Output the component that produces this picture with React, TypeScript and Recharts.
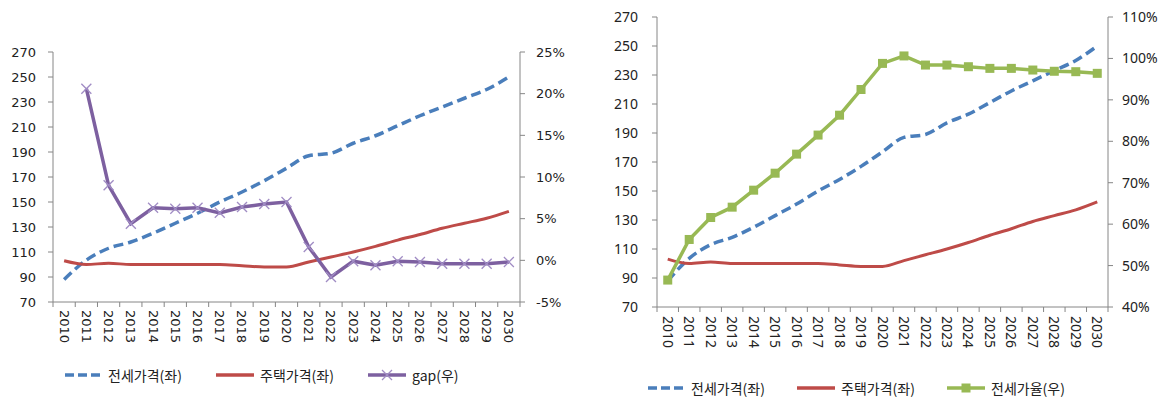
import React from "react"
import { LineChart, Line, XAxis, YAxis, Legend } from "recharts"

const years = [
  "2010", "2011", "2012", "2013", "2014", "2015", "2016", "2017", "2018", "2019", "2020",
  "2021", "2022", "2023", "2024", "2025", "2026", "2027", "2028", "2029", "2030",
]
const jeonsePrice = [88, 103.5, 113, 118, 125, 133, 141, 150, 158, 167, 177, 187, 189, 197, 203, 211, 219, 226, 233, 240, 250]
const housePrice = [103, 100, 101, 100, 100, 100, 100, 100, 99, 98, 98, 102, 106, 110, 114.5, 119.5, 124, 129, 133, 137, 142.5]
const gapPct = [null, 20.6, 9.0, 4.4, 6.3, 6.2, 6.3, 5.7, 6.4, 6.75, 7.0, 1.6, -2.0, -0.1, -0.6, -0.1, -0.2, -0.4, -0.4, -0.4, -0.2]
const jeonseRatio = [46.5, 56.3, 61.6, 64.1, 68.2, 72.3, 76.9, 81.5, 86.3, 92.5, 98.8, 100.6, 98.4, 98.4, 98.0, 97.6, 97.6, 97.2, 96.9, 96.8, 96.4]

const priceTicks = [70, 90, 110, 130, 150, 170, 190, 210, 230, 250, 270]
const gapTicks = [-5, 0, 5, 10, 15, 20, 25]
const ratioTicks = [40, 50, 60, 70, 80, 90, 100, 110]

const data = years.map((year, i) => ({
  year,
  jeonse: jeonsePrice[i],
  house: housePrice[i],
  gap: gapPct[i],
  ratio: jeonseRatio[i],
}))

const BLUE = "#4A7EBB"
const RED = "#BE4B48"
const PURPLE = "#7D60A0"
const GREEN = "#98B954"
const AXIS = "#868686"
const TEXT = "#222"
const KR = "'Noto Sans CJK KR', 'Noto Sans', sans-serif"

function YearTick(props: any) {
  const { x, y, payload, index, half, font, size, gap } = props
  return (
    <g>
      <line x1={x - half} y1={y} x2={x - half} y2={y + 5} stroke={AXIS} />
      {index === years.length - 1 && <line x1={x + half} y1={y} x2={x + half} y2={y + 5} stroke={AXIS} />}
      <text
        transform={`translate(${x},${y + gap}) rotate(90)`}
        textAnchor="start"
        dy="0.35em"
        fontFamily={font}
        fontSize={size}
        fill={TEXT}
      >
        {payload.value}
      </text>
    </g>
  )
}

function CrossDot(props: any) {
  const { cx, cy, index } = props
  if (cx == null || cy == null) return <g key={index} />
  const r = 5
  return (
    <g key={index}>
      <line x1={cx - r} y1={cy - r} x2={cx + r} y2={cy + r} stroke="#A08CC4" strokeWidth={1.3} />
      <line x1={cx - r} y1={cy + r} x2={cx + r} y2={cy - r} stroke="#A08CC4" strokeWidth={1.3} />
    </g>
  )
}

function SquareDot(props: any) {
  const { cx, cy, index } = props
  if (cx == null || cy == null) return <g key={index} />
  return <rect key={index} x={cx - 4.5} y={cy - 4.5} width={9} height={9} fill={GREEN} />
}

type LegendItem = { label: string; color: string; kind: "dash" | "line" | "cross" | "square" }

function LegendIcon({ item }: { item: LegendItem }) {
  return (
    <svg width={38} height={12} style={{ marginRight: 6, flex: "none" }}>
      {item.kind === "dash" ? (
        <line x1={1} y1={6} x2={37} y2={6} stroke={item.color} strokeWidth={3.5} strokeDasharray="9 4" />
      ) : (
        <line x1={0} y1={6} x2={38} y2={6} stroke={item.color} strokeWidth={3.5} />
      )}
      {item.kind === "cross" && (
        <g stroke="#A08CC4" strokeWidth={1.3}>
          <line x1={14} y1={1} x2={24} y2={11} />
          <line x1={14} y1={11} x2={24} y2={1} />
        </g>
      )}
      {item.kind === "square" && <rect x={14.5} y={1.5} width={9} height={9} fill={item.color} />}
    </svg>
  )
}

function makeLegend(items: LegendItem[], padLeft: number, itemWidth: number) {
  return () => (
    <div style={{ display: "flex", alignItems: "center", height: 24, paddingLeft: padLeft }}>
      {items.map((item) => (
        <div key={item.label} style={{ display: "flex", alignItems: "center", width: itemWidth, flex: "none" }}>
          <LegendIcon item={item} />
          <span style={{ fontFamily: KR, fontSize: 14, color: TEXT, whiteSpace: "nowrap" }}>{item.label}</span>
        </div>
      ))}
    </div>
  )
}

const leftLegend: LegendItem[] = [
  { label: "전세가격(좌)", color: BLUE, kind: "dash" },
  { label: "주택가격(좌)", color: RED, kind: "line" },
  { label: "gap(우)", color: PURPLE, kind: "cross" },
]
const rightLegend: LegendItem[] = [
  { label: "전세가격(좌)", color: BLUE, kind: "dash" },
  { label: "주택가격(좌)", color: RED, kind: "line" },
  { label: "전세가율(우)", color: GREEN, kind: "square" },
]

export default function App() {
  const leftFont = "'DejaVu Sans', Verdana, sans-serif"
  const rightFont = "'Noto Sans', sans-serif"
  const leftHalf = 467 / years.length / 2
  const rightHalf = 451 / years.length / 2
  return (
    <div style={{ position: "absolute", left: 0, top: 0, width: 1166, height: 403, background: "#fff" }}>
      <div style={{ position: "absolute", left: 0, top: 0 }}>
        <LineChart width={580} height={403} data={data} margin={{ top: 52, right: 0, left: 0, bottom: 16 }}>
          <XAxis
            dataKey="year"
            interval={0}
            height={61}
            tickSize={0}
            tickMargin={0}
            padding={{ left: leftHalf, right: leftHalf }}
            stroke={AXIS}
            tick={<YearTick half={leftHalf} font={leftFont} size={13} gap={8} />}
          />
          <YAxis
            yAxisId="left"
            width={53}
            domain={[70, 270]}
            ticks={priceTicks}
            interval={0}
            tickSize={5}
            tickMargin={12}
            stroke={AXIS}
            tick={{ fontFamily: leftFont, fontSize: 13, fill: TEXT }}
          />
          <YAxis
            yAxisId="right"
            orientation="right"
            width={60}
            domain={[-5, 25]}
            ticks={gapTicks}
            interval={0}
            tickSize={5}
            tickMargin={11}
            stroke={AXIS}
            tickFormatter={(v: number) => `${v}%`}
            tick={{ fontFamily: leftFont, fontSize: 13, fill: TEXT, textAnchor: "start" }}
          />
          <Legend verticalAlign="bottom" height={24} content={makeLegend(leftLegend, 64, 152)} />
          <Line yAxisId="left" type="monotone" dataKey="jeonse" stroke={BLUE} strokeWidth={3.5} strokeDasharray="10 5" dot={false} activeDot={false} isAnimationActive={false} />
          <Line yAxisId="left" type="monotone" dataKey="house" stroke={RED} strokeWidth={3} dot={false} activeDot={false} isAnimationActive={false} />
          <Line yAxisId="right" type="linear" dataKey="gap" stroke={PURPLE} strokeWidth={3.5} dot={<CrossDot />} activeDot={false} isAnimationActive={false} />
        </LineChart>
      </div>
      <div style={{ position: "absolute", left: 586, top: 0 }}>
        <LineChart width={580} height={403} data={data} margin={{ top: 17, right: 0, left: 0, bottom: 3 }}>
          <XAxis
            dataKey="year"
            interval={0}
            height={69}
            tickSize={0}
            tickMargin={0}
            padding={{ left: rightHalf, right: rightHalf }}
            stroke={AXIS}
            tick={<YearTick half={rightHalf} font={rightFont} size={14} gap={9} />}
          />
          <YAxis
            yAxisId="left"
            width={71}
            domain={[70, 270]}
            ticks={priceTicks}
            interval={0}
            tickSize={5}
            tickMargin={14}
            stroke={AXIS}
            tick={{ fontFamily: rightFont, fontSize: 14, fill: TEXT }}
          />
          <YAxis
            yAxisId="right"
            orientation="right"
            width={58}
            domain={[40, 110]}
            ticks={ratioTicks}
            interval={0}
            tickSize={5}
            tickMargin={9}
            stroke={AXIS}
            tickFormatter={(v: number) => `${v}%`}
            tick={{ fontFamily: rightFont, fontSize: 14, fill: TEXT, textAnchor: "start" }}
          />
          <Legend verticalAlign="bottom" height={24} content={makeLegend(rightLegend, 61, 150)} />
          <Line yAxisId="left" type="monotone" dataKey="jeonse" stroke={BLUE} strokeWidth={3.5} strokeDasharray="10 5" dot={false} activeDot={false} isAnimationActive={false} />
          <Line yAxisId="left" type="monotone" dataKey="house" stroke={RED} strokeWidth={3} dot={false} activeDot={false} isAnimationActive={false} />
          <Line yAxisId="right" type="linear" dataKey="ratio" stroke={GREEN} strokeWidth={3.5} dot={<SquareDot />} activeDot={false} isAnimationActive={false} />
        </LineChart>
      </div>
    </div>
  )
}
